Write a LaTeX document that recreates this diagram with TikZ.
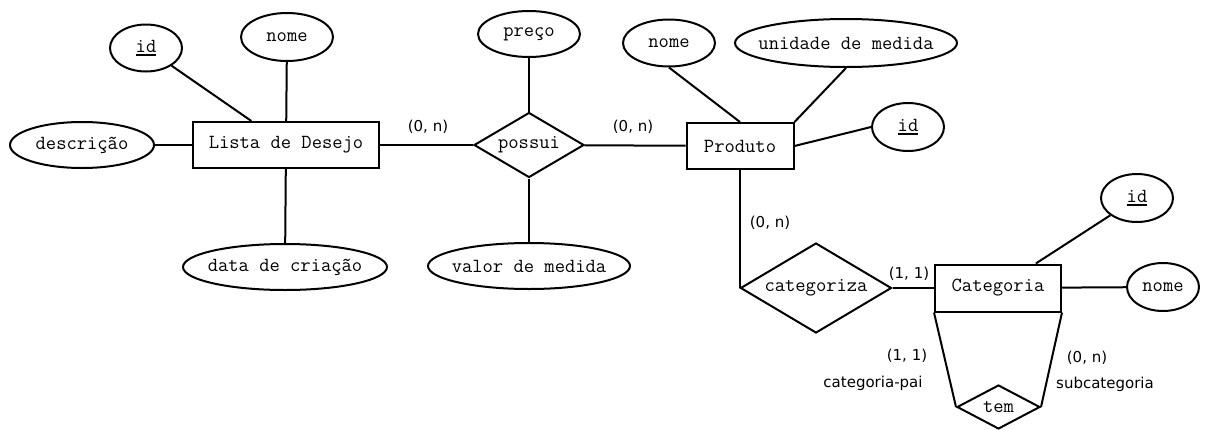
\documentclass[tikz,border=0pt]{standalone}
\usepackage{fontspec}
\newfontfamily\labelfont{DejaVu Sans}
\usetikzlibrary{shapes.geometric}
\tikzset{
  every node/.style={font=\ttfamily\fontsize{20}{22}\selectfont},
  conn/.style={line width=2pt},
  entity/.style={draw, line width=2pt, rectangle, inner sep=0pt},
  attr/.style={draw, line width=2pt, ellipse, inner sep=0pt, label={center:#1}},
  rel/.style={draw, line width=2pt, diamond, inner sep=0pt, label={center:#1}},
  card/.style={font=\labelfont\fontsize{15}{17}\selectfont, inner sep=0pt},
}
% key attribute: text with a heavy rule below it
\newcommand{\keyattr}[1]{\setbox0\hbox{#1}\rlap{\rule[-4pt]{\wd0}{1.8pt}}\box0}
\begin{document}
\begin{tikzpicture}[x=1pt, y=-1pt]
\useasboundingbox (0,0) rectangle (1211,429);

% entities
\node[entity, minimum width=186pt, minimum height=46pt] (ld) at (286,145) {Lista de Desejo};
\node[entity, minimum width=107pt, minimum height=46pt] (prod) at (740,146) {Produto};
\node[entity, minimum width=126pt, minimum height=47pt] (cat) at (998,288) {Categoria};

% relationships
\node[rel=possui, minimum width=110pt, minimum height=65pt] (possui) at (529,145) {};
\node[rel=categoriza, minimum width=151pt, minimum height=90pt] (catz) at (816,288) {};
\node[rel=tem, minimum width=83pt, minimum height=44pt] (tem) at (998.5,407) {};

% attributes of Lista de Desejo
\node[attr=\keyattr{id}, minimum width=72pt, minimum height=47pt] (lid) at (146,48) {};
\node[attr=nome, minimum width=92pt, minimum height=48pt] (lnome) at (287,37) {};
\node[attr=descrição, minimum width=144pt, minimum height=46pt] (desc) at (82,145) {};
\node[attr=data de criação, minimum width=204pt, minimum height=46pt] (ldata) at (285,267) {};

% attributes of possui
\node[attr=preço, minimum width=102pt, minimum height=46pt] (preco) at (529,34) {};
\node[attr=valor de medida, minimum width=202pt, minimum height=46pt] (valor) at (529,266) {};

% attributes of Produto
\node[attr=nome, minimum width=92pt, minimum height=47pt] (pnome) at (669,43) {};
\node[attr=unidade de medida, minimum width=222pt, minimum height=48pt] (unid) at (846,43) {};
\node[attr=\keyattr{id}, minimum width=72pt, minimum height=48pt] (pid) at (908,127) {};

% attributes of Categoria
\node[attr=\keyattr{id}, minimum width=72pt, minimum height=48pt] (cid) at (1137,198) {};
\node[attr=nome, minimum width=72pt, minimum height=48pt] (cnome) at (1163,287) {};

% connectors
\draw[conn] (lid) -- (ld);
\draw[conn] (lnome) -- (ld);
\draw[conn] (desc) -- (ld);
\draw[conn] (ldata) -- (ld);
\draw[conn] (ld) -- (possui);
\draw[conn] (possui) -- (prod);
\draw[conn] (preco) -- (possui);
\draw[conn] (valor) -- (possui);
\draw[conn] (pnome.south) -- (prod.north);
\draw[conn] (unid.south) -- (prod.north east);
\draw[conn] (prod.east) -- (pid.west);
\draw[conn] (prod.south) |- (catz.west);
\draw[conn] (catz.east) -- (cat.west);
\draw[conn] (cat) -- (cid);
\draw[conn] (cat) -- (cnome);
\draw[conn] (cat.south west) -- (tem.west);
\draw[conn] (cat.south east) -- (tem.east);

% cardinalities and roles
\node[card] (c1) at (428,127) {(0, n)};
\node[card] (c2) at (633,127) {(0, n)};
\node[card] (c3) at (770,223) {(0, n)};
\node[card] (c4) at (909,274) {(1, 1)};
\node[card] (c5) at (907,356) {(1, 1)};
\node[card] (r1) at (873,383) {categoria-pai};
\node[card] (c6) at (1087,358) {(0, n)};
\node[card] (r2) at (1105,384) {subcategoria};
\end{tikzpicture}
\end{document}
